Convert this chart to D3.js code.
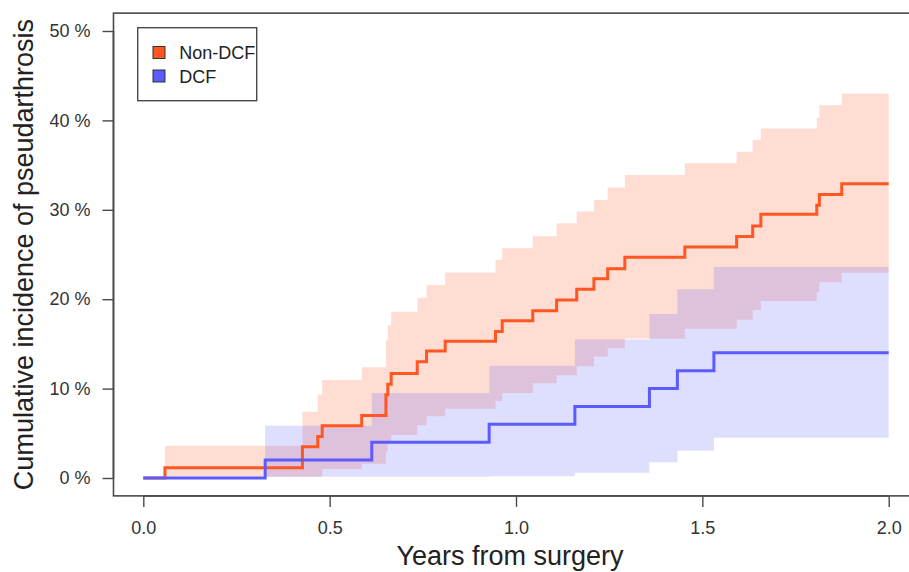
<!DOCTYPE html>
<html>
<head>
<meta charset="utf-8">
<script src="https://cdn.jsdelivr.net/npm/d3@7"></script>
<style>
  html, body { margin: 0; padding: 0; background: #fff; }
  svg { display: block; font-family: "Liberation Sans", Arial, sans-serif; }
</style>
</head>
<body>
<svg id="chart" width="909" height="572"></svg>
<script>
// ---- Data ----
const groupNames = ["Non-DCF", "DCF"];

const nonDcfTime  = [0, 0.058, 0.427, 0.468, 0.480, 0.586, 0.651, 0.656, 0.665, 0.735, 0.760, 0.810, 0.945, 0.963, 1.045, 1.109, 1.163, 1.209, 1.246, 1.292, 1.453, 1.592, 1.635, 1.657, 1.807, 1.814, 1.874, 2.0];
const nonDcfEst   = [0, 1.16, 3.5, 4.65, 5.85, 7.0, 9.3, 10.5, 11.7, 13.0, 14.2, 15.3, 16.4, 17.6, 18.7, 19.9, 21.1, 22.3, 23.4, 24.7, 25.85, 27.0, 28.2, 29.5, 30.5, 31.7, 32.9, 32.9];
const nonDcfUpper = [0, 3.6, 7.4, 9.3, 10.95, 12.4, 15.5, 17.1, 18.6, 20.15, 21.6, 23.0, 24.4, 25.7, 27.05, 28.5, 29.8, 31.1, 32.5, 33.9, 35.2, 36.5, 37.8, 39.1, 40.3, 41.7, 43.0, 43.0];
const nonDcfLower = [0, 0.15, 0.15, 0.15, 1.0, 1.6, 3.0, 3.9, 4.8, 5.9, 6.9, 7.75, 8.6, 9.5, 10.6, 11.5, 12.5, 13.6, 14.5, 15.6, 16.7, 17.7, 18.8, 19.8, 20.8, 21.9, 22.95, 22.95];

const dcfTime  = [0, 0.327, 0.613, 0.928, 1.158, 1.358, 1.433, 1.531, 2.0];
const dcfEst   = [0, 2.0, 4.0, 6.0, 8.0, 10.0, 12.0, 14.0, 14.0];
const dcfUpper = [0, 5.85, 9.5, 12.55, 15.5, 18.35, 21.1, 23.6, 23.6];
const dcfLower = [0, 0.15, 0.15, 0.2, 0.6, 1.75, 3.05, 4.5, 4.5];

const xTicks = [0, 0.5, 1.0, 1.5, 2.0];
const yTicks = [0, 10, 20, 30, 40, 50];

// ---- Styles ----
const orange = "#FF5722";
const blue = "#5B5BFF";

const svg = d3.select("#chart");
const x = d3.scaleLinear().domain([0, 2]).range([143.3, 888.7]);
const y = d3.scaleLinear().domain([0, 50]).range([478, 31]);
// plot region extends 4% beyond data range (R style)
const box = { x0: x(-0.08), x1: x(2.08), y0: y(52), y1: y(-2) };

function rows(t, e, lo, hi) { return t.map((d, i) => ({ t: d, e: e[i], lo: lo[i], hi: hi[i] })); }
const nonDcf = rows(nonDcfTime, nonDcfEst, nonDcfLower, nonDcfUpper);
const dcf = rows(dcfTime, dcfEst, dcfLower, dcfUpper);

const area = d3.area().curve(d3.curveStepAfter)
  .x(d => x(d.t)).y0(d => y(d.lo)).y1(d => y(d.hi));
const line = d3.line().curve(d3.curveStepAfter)
  .x(d => x(d.t)).y(d => y(d.e));

// bands
svg.append("path").attr("d", area(nonDcf.slice(1))).attr("fill", orange).attr("fill-opacity", 0.2);
svg.append("path").attr("d", area(dcf.slice(1))).attr("fill", blue).attr("fill-opacity", 0.2);

// lines
svg.append("path").attr("d", line(nonDcf)).attr("fill", "none").attr("stroke", orange).attr("stroke-width", 3);
svg.append("path").attr("d", line(dcf)).attr("fill", "none").attr("stroke", blue).attr("stroke-width", 3);

// box
svg.append("rect").attr("x", box.x0).attr("y", box.y0)
  .attr("width", box.x1 - box.x0).attr("height", box.y1 - box.y0)
  .attr("fill", "none").attr("stroke", "#4a4a4a").attr("stroke-width", 1.6);

// x axis
const xAxis = d3.axisBottom(x).tickValues(xTicks).tickFormat(d3.format(".1f")).tickSize(11).tickPadding(14);
const gx = svg.append("g").attr("transform", `translate(0,${box.y1})`).call(xAxis);
gx.select(".domain").attr("d", `M${x(0)},0H${x(2)}`).attr("stroke", "#4a4a4a").attr("stroke-width", 1.6);
gx.selectAll(".tick line").attr("stroke", "#4a4a4a").attr("stroke-width", 1.4);
gx.selectAll(".tick text").attr("font-size", 18).attr("fill", "#333").attr("font-family", "Liberation Sans, Arial, sans-serif");

// y axis
const yAxis = d3.axisLeft(y).tickValues(yTicks).tickFormat(d => d + " %").tickSize(11).tickPadding(12);
const gy = svg.append("g").attr("transform", `translate(${box.x0},0)`).call(yAxis);
gy.select(".domain").attr("d", `M0,${y(0)}V${y(50)}`).attr("stroke", "#4a4a4a").attr("stroke-width", 1.6);
gy.selectAll(".tick line").attr("stroke", "#4a4a4a").attr("stroke-width", 1.4);
gy.selectAll(".tick text").attr("font-size", 18).attr("fill", "#333").attr("font-family", "Liberation Sans, Arial, sans-serif");

// axis titles
svg.append("text").attr("x", (box.x0 + box.x1) / 2 - 6).attr("y", 565)
  .attr("text-anchor", "middle").attr("font-size", 27).attr("fill", "#222")
  .text("Years from surgery");
svg.append("text").attr("transform", `translate(33,${(box.y0 + box.y1) / 2}) rotate(-90)`)
  .attr("text-anchor", "middle").attr("font-size", 27).attr("fill", "#222")
  .text("Cumulative incidence of pseudarthrosis");

// legend
const lg = svg.append("g");
lg.append("rect").attr("x", 137.7).attr("y", 27.7).attr("width", 119).attr("height", 73)
  .attr("fill", "#fff").attr("stroke", "#4a4a4a").attr("stroke-width", 1.4);
const legendColors = [orange, blue];
groupNames.forEach((name, i) => {
  const yy = 52.5 + i * 23.5;
  lg.append("rect").attr("x", 153).attr("y", yy - 6).attr("width", 12).attr("height", 12)
    .attr("fill", legendColors[i]).attr("stroke", "#333").attr("stroke-width", 1);
  lg.append("text").attr("x", 179.3).attr("y", yy + 6.5).attr("font-size", 18).attr("fill", "#222").text(name);
});
</script>
</body>
</html>
